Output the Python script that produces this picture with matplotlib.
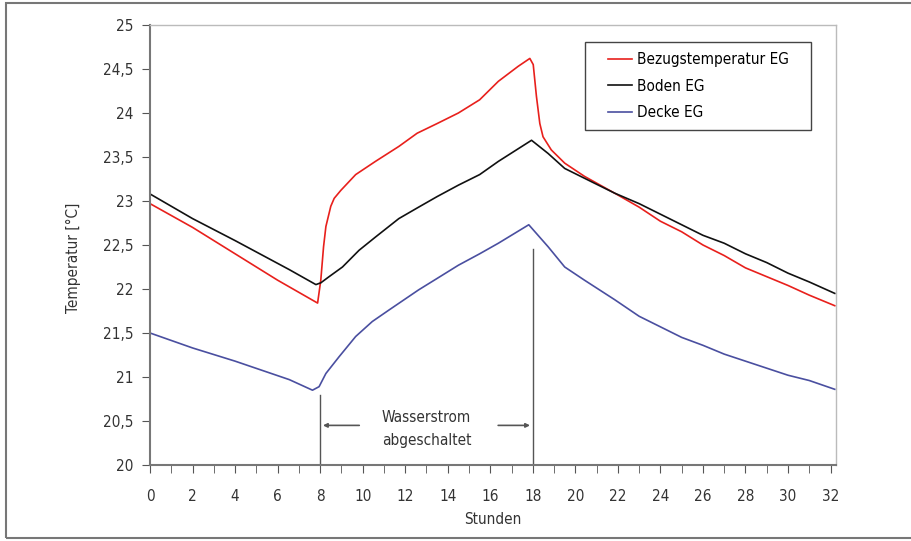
import matplotlib.pyplot as plt
from matplotlib.ticker import MultipleLocator, FuncFormatter

plt.rcParams['font.family'] = ['DejaVu Sans']
plt.rcParams['font.stretch'] = 'condensed'

t_bezug = [0, 2, 4, 6, 7.88, 8.03, 8.16, 8.27, 8.5, 8.66, 8.97, 9.67, 10.6, 11.7, 12.56,
           13.5, 14.5, 15.5, 16.38, 17.31, 17.86, 18.02, 18.17, 18.33, 18.48, 18.87, 19.5,
           20.43, 21.84, 23, 24, 25, 26, 27, 28, 29, 30, 31, 32.2]
bezug = [22.97, 22.7, 22.4, 22.1, 21.84, 22.1, 22.48, 22.71, 22.94, 23.03, 23.12, 23.3,
         23.45, 23.62, 23.77, 23.88, 24.0, 24.15, 24.36, 24.53, 24.62, 24.55, 24.19, 23.88,
         23.73, 23.58, 23.43, 23.28, 23.09, 22.93, 22.77, 22.65, 22.5, 22.38, 22.24, 22.14,
         22.04, 21.93, 21.81]

t_boden = [0, 2, 4, 6.55, 7.8, 8.03, 8.42, 9.05, 9.83, 10.6, 11.7, 12.63, 13.5, 14.5, 15.5,
           16.38, 17.94, 18.72, 19.5, 20.75, 21.84, 23, 24, 25, 26, 27, 28, 29, 30, 31, 32.2]
boden = [23.08, 22.8, 22.55, 22.22, 22.05, 22.07, 22.14, 22.25, 22.44, 22.59, 22.8, 22.93,
         23.05, 23.18, 23.3, 23.45, 23.69, 23.54, 23.37, 23.22, 23.09, 22.97, 22.85, 22.73,
         22.61, 22.52, 22.4, 22.3, 22.18, 22.08, 21.95]

t_decke = [0, 2, 4, 6.55, 7.64, 7.95, 8.27, 8.89, 9.67, 10.45, 11.23, 12.63, 13.5, 14.5,
           15.5, 16.38, 17.81, 18.72, 19.5, 20.43, 21.84, 23, 24, 25, 26, 27, 28, 29, 30, 31,
           32.2]
decke = [21.5, 21.33, 21.18, 20.97, 20.85, 20.89, 21.04, 21.23, 21.46, 21.63, 21.76, 21.99,
         22.12, 22.27, 22.4, 22.52, 22.73, 22.48, 22.25, 22.1, 21.88, 21.69, 21.57, 21.45,
         21.36, 21.26, 21.18, 21.1, 21.02, 20.96, 20.86]

fig = plt.figure(figsize=(9.12, 5.41), dpi=100)
ax = fig.add_axes([0.1645, 0.1405, 0.752, 0.8133])

# Rahmen um die ganze Grafik
fig.patches.append(plt.Rectangle((0.007, 0.005), 1.2, 0.989, transform=fig.transFigure,
                                 fill=False, edgecolor='#777777', linewidth=1.5))

ax.plot(t_bezug, bezug, color='#e8201c', linewidth=1.2, label='Bezugstemperatur EG')
ax.plot(t_boden, boden, color='#111111', linewidth=1.2, label='Boden EG')
ax.plot(t_decke, decke, color='#4a4fa0', linewidth=1.2, label='Decke EG')

ax.set_xlim(0, 32.25)
ax.set_ylim(20, 25)
ax.xaxis.set_major_locator(MultipleLocator(2))
ax.xaxis.set_minor_locator(MultipleLocator(1))
ax.yaxis.set_major_locator(MultipleLocator(0.5))
ax.yaxis.set_major_formatter(FuncFormatter(lambda v, p: ('%g' % v).replace('.', ',')))

ax.tick_params(axis='both', direction='out', colors='#555555', labelcolor='#333333',
               labelsize=11, length=6)
ax.tick_params(axis='x', which='minor', direction='out', colors='#555555', length=6)
ax.tick_params(axis='x', pad=11)
ax.tick_params(axis='y', pad=6)
for s in ['left', 'bottom']:
    ax.spines[s].set_color('#777777')
    ax.spines[s].set_linewidth(1.5)
for s in ['top', 'right']:
    ax.spines[s].set_color('#bbbbbb')
    ax.spines[s].set_linewidth(1)

ax.set_xlabel('Stunden', fontsize=11, color='#333333', labelpad=6)
ax.set_ylabel('Temperatur [°C]', fontsize=11, color='#333333')
ax.yaxis.set_label_coords(-0.1, 0.47)

# Markierung Wasserstrom abgeschaltet
ax.plot([8, 8], [20, 20.8], color='#555555', linewidth=1)
ax.plot([18, 18], [20, 22.45], color='#555555', linewidth=1)
ax.annotate('', xy=(8, 20.45), xytext=(9.97, 20.45),
            arrowprops=dict(arrowstyle='-|>', color='#555555', lw=1.2, mutation_scale=6))
ax.annotate('', xy=(18, 20.45), xytext=(16.24, 20.45),
            arrowprops=dict(arrowstyle='-|>', color='#555555', lw=1.2, mutation_scale=6))
ax.text(13, 20.41, 'Wasserstrom\nabgeschaltet', ha='center', va='center',
        fontsize=11, color='#333333', linespacing=1.7)

# Legende mit eigenem Rahmen
ax.add_patch(plt.Rectangle((0.634, 0.761), 0.33, 0.2, transform=ax.transAxes,
                           fill=True, facecolor='white', edgecolor='#444444',
                           linewidth=1, zorder=4))
leg = ax.legend(loc='center', bbox_to_anchor=(0.799, 0.861), fontsize=11,
                frameon=False, handlelength=1.6, borderpad=0, labelspacing=0.75,
                borderaxespad=0, handletextpad=0.3)
leg.set_zorder(5)

fig.savefig('out.png', dpi=100)
